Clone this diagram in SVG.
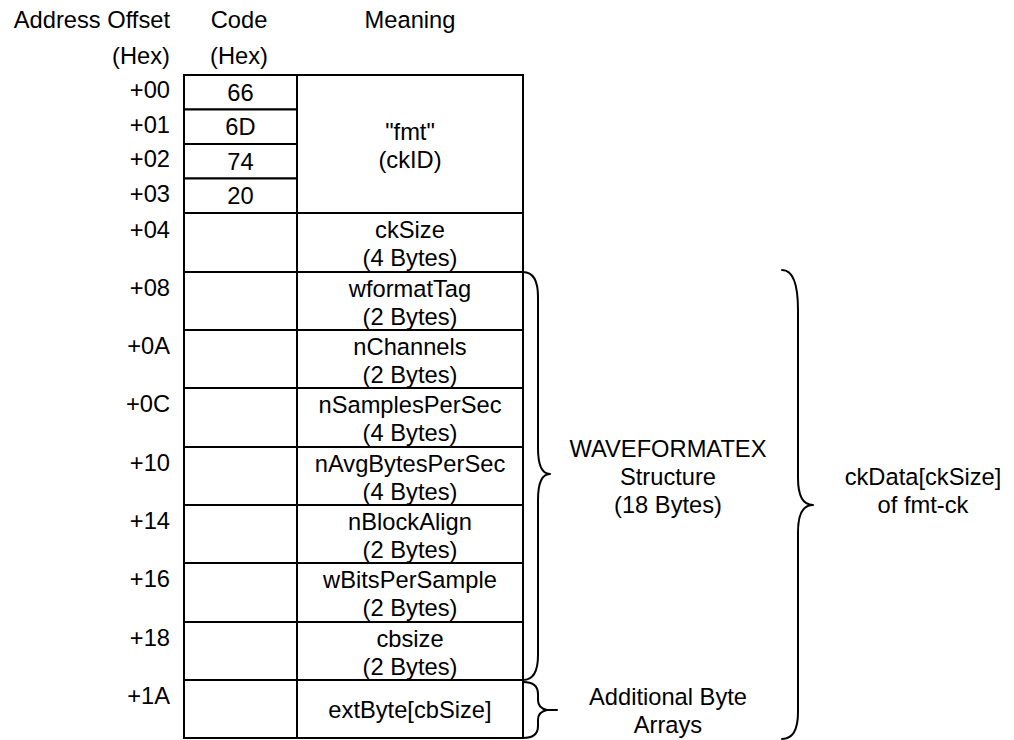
<svg xmlns="http://www.w3.org/2000/svg" width="1014" height="740" viewBox="0 0 1014 740">
<style>
text{font-family:"Liberation Sans",Arial,sans-serif;font-size:23.7px;fill:#000}
.c{text-anchor:middle}
.r{text-anchor:end}
.cell{fill:#fff;stroke:#000;stroke-width:2}
.br{fill:none;stroke:#000;stroke-width:2;stroke-linecap:round;stroke-linejoin:round}
</style>
<rect width="1014" height="740" fill="#fff"/>
<g id="headers">
<text class="r" x="170" y="28">Address Offset</text>
<text class="r" x="170" y="64">(Hex)</text>
<text class="c" x="239" y="28">Code</text>
<text class="c" x="239" y="64">(Hex)</text>
<text class="c" x="410" y="28">Meaning</text>
</g>
<g id="offsets">
<text class="r" x="170" y="98">+00</text>
<text class="r" x="170" y="133">+01</text>
<text class="r" x="170" y="167">+02</text>
<text class="r" x="170" y="202">+03</text>
<text class="r" x="170" y="238">+04</text>
<text class="r" x="170" y="296">+08</text>
<text class="r" x="170" y="354">+0A</text>
<text class="r" x="170" y="412">+0C</text>
<text class="r" x="170" y="471">+10</text>
<text class="r" x="170" y="529">+14</text>
<text class="r" x="170" y="587">+16</text>
<text class="r" x="170" y="646">+18</text>
<text class="r" x="170" y="704">+1A</text>
</g>
<g id="code-cells">
<g id="code-00"><rect class="cell" x="184" y="75" width="113" height="34.5"/><text class="c" x="240.5" y="100.5">66</text></g>
<g id="code-01"><rect class="cell" x="184" y="109.5" width="113" height="34.5"/><text class="c" x="240.5" y="135">6D</text></g>
<g id="code-02"><rect class="cell" x="184" y="144" width="113" height="34.5"/><text class="c" x="240.5" y="169.5">74</text></g>
<g id="code-03"><rect class="cell" x="184" y="178.5" width="113" height="34.5"/><text class="c" x="240.5" y="204">20</text></g>
<g id="code-04"><rect class="cell" x="184" y="213" width="113" height="59"/></g>
<g id="code-08"><rect class="cell" x="184" y="272" width="113" height="58"/></g>
<g id="code-0A"><rect class="cell" x="184" y="330" width="113" height="58"/></g>
<g id="code-0C"><rect class="cell" x="184" y="388" width="113" height="59"/></g>
<g id="code-10"><rect class="cell" x="184" y="447" width="113" height="58"/></g>
<g id="code-14"><rect class="cell" x="184" y="505" width="113" height="58"/></g>
<g id="code-16"><rect class="cell" x="184" y="563" width="113" height="59"/></g>
<g id="code-18"><rect class="cell" x="184" y="622" width="113" height="58"/></g>
<g id="code-1A"><rect class="cell" x="184" y="680" width="113" height="58"/></g>
</g>
<g id="meaning-cells">
<g id="ckID"><rect class="cell" x="297" y="75" width="226" height="138"/><text class="c" x="410" y="140">"fmt"</text><text class="c" x="410" y="168">(ckID)</text></g>
<g id="ckSize"><rect class="cell" x="297" y="213" width="226" height="59"/><text class="c" x="410" y="238">ckSize</text><text class="c" x="410" y="266">(4 Bytes)</text></g>
<g id="wformatTag"><rect class="cell" x="297" y="272" width="226" height="58"/><text class="c" x="410" y="296.5">wformatTag</text><text class="c" x="410" y="324.5">(2 Bytes)</text></g>
<g id="nChannels"><rect class="cell" x="297" y="330" width="226" height="58"/><text class="c" x="410" y="354.5">nChannels</text><text class="c" x="410" y="382.5">(2 Bytes)</text></g>
<g id="nSamplesPerSec"><rect class="cell" x="297" y="388" width="226" height="59"/><text class="c" x="410" y="412.5">nSamplesPerSec</text><text class="c" x="410" y="440.5">(4 Bytes)</text></g>
<g id="nAvgBytesPerSec"><rect class="cell" x="297" y="447" width="226" height="58"/><text class="c" x="410" y="471.5">nAvgBytesPerSec</text><text class="c" x="410" y="499.5">(4 Bytes)</text></g>
<g id="nBlockAlign"><rect class="cell" x="297" y="505" width="226" height="58"/><text class="c" x="410" y="529.5">nBlockAlign</text><text class="c" x="410" y="557.5">(2 Bytes)</text></g>
<g id="wBitsPerSample"><rect class="cell" x="297" y="563" width="226" height="59"/><text class="c" x="410" y="587.5">wBitsPerSample</text><text class="c" x="410" y="615.5">(2 Bytes)</text></g>
<g id="cbsize"><rect class="cell" x="297" y="622" width="226" height="58"/><text class="c" x="410" y="646.5">cbsize</text><text class="c" x="410" y="674.5">(2 Bytes)</text></g>
<g id="extByte"><rect class="cell" x="297" y="680" width="226" height="58"/><text class="c" x="410" y="718">extByte[cbSize]</text></g>
</g>
<g id="connectors">
<path class="br" d="M523,272 C533,272 538,280 538,297 L538,448 C538,466 542,474 550,474 C542,474 538,482 538,500 L538,655 C538,672 533,680 523,680"/>
<path class="br" d="M523,682 C533,682 538,686 538,694 L538,700 C538,706 542,709 547,710 L557,710 M547,710 C542,711 538,714 538,720 L538,726 C538,734 533,738 523,738"/>
<path class="br" d="M782,270 C793,270 798,285 798,310 L798,478 C798,495 803,505 813,505 C803,505 798,515 798,532 L798,712 C798,730 793,739 782,739"/>
</g>
<g id="waveformatex-label">
<text class="c" x="668" y="457">WAVEFORMATEX</text>
<text class="c" x="668" y="485">Structure</text>
<text class="c" x="668" y="513">(18 Bytes)</text>
</g>
<g id="additional-label">
<text class="c" x="668" y="705">Additional Byte</text>
<text class="c" x="668" y="733">Arrays</text>
</g>
<g id="ckdata-label">
<text class="c" x="923" y="485">ckData[ckSize]</text>
<text class="c" x="923" y="513">of fmt-ck</text>
</g>
</svg>
